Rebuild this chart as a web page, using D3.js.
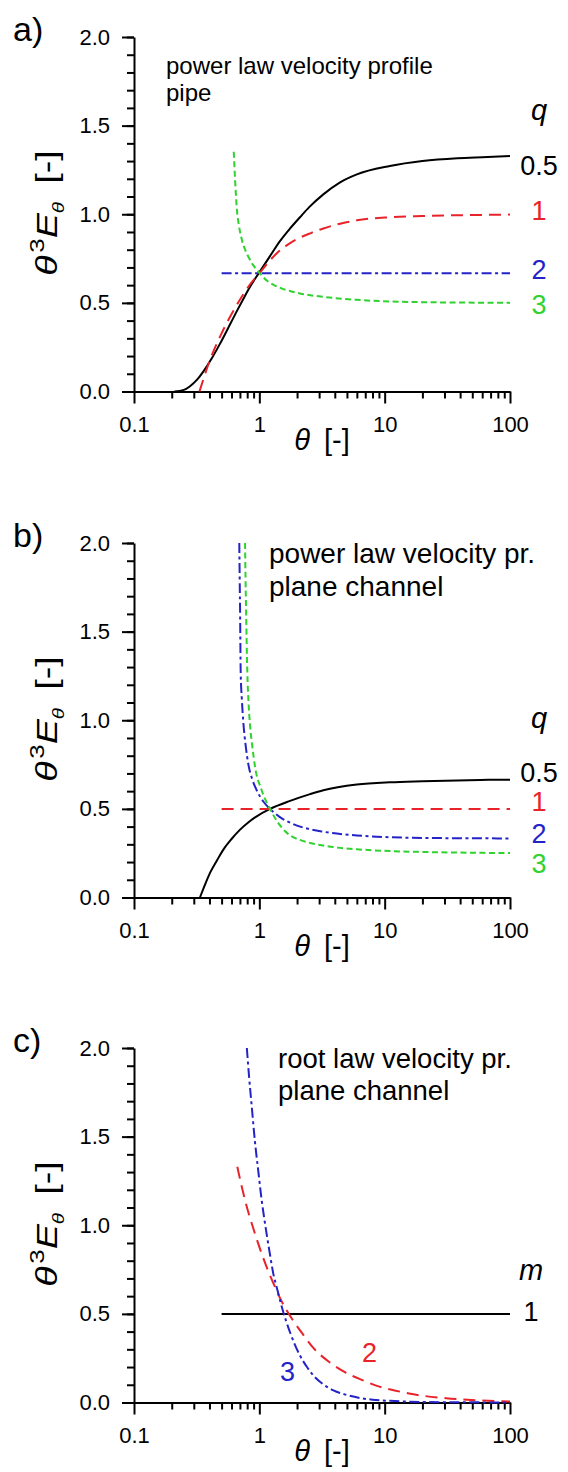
<!DOCTYPE html>
<html>
<head>
<meta charset="utf-8">
<script src="https://cdn.jsdelivr.net/npm/d3@7"></script>
<style>
body{margin:0;background:#fff}
text{font-family:"Liberation Sans",Arial,sans-serif;fill:#000}
</style>
</head>
<body>
<div id="chart"></div>
<script>
const width = 568
const height = 1472

// axes
const thetaDomain = [0.1, 100]
const thetaTicks = [0.1, 1, 10, 100]
const thetaTickLabels = ["0.1", "1", "10", "100"]
const yDomain = [0, 2]
const yTicks = [0, 0.5, 1, 1.5, 2]
const yTickLabels = ["0.0", "0.5", "1.0", "1.5", "2.0"]

// a) power law velocity profile, pipe  [theta, theta^3 E]
const pipeQ05 = [[0.21,0],[0.25,0.009],[0.28,0.03],[0.32,0.068],[0.357,0.112],[0.42,0.19],[0.486,0.27],[0.583,0.378],[0.66,0.452],[0.745,0.522],[0.85,0.595],[1,0.672],[1.22,0.765],[1.46,0.848],[1.76,0.92],[2.11,0.983],[2.5,1.04],[3.24,1.112],[4.41,1.18],[6,1.225],[11,1.272],[20,1.3],[38,1.316],[60,1.322],[100,1.328]]
const pipeQ1 = [[0.333,0],[0.36,0.075],[0.4,0.17],[0.486,0.31],[0.59,0.427],[0.72,0.532],[0.85,0.608],[1,0.667],[1.2,0.735],[1.38,0.78],[1.7,0.83],[2,0.86],[2.6,0.895],[3.24,0.92],[4.5,0.948],[6,0.966],[11,0.983],[20,0.99],[58,0.996],[100,0.998]]
const pipeQ2 = [[0.5,0.667],[100,0.667]]
const pipeQ3 = [[0.625,1.353],[0.64,1.2],[0.66,1.04],[0.69,0.93],[0.723,0.86],[0.77,0.8],[0.818,0.76],[0.9,0.71],[1,0.67],[1.15,0.625],[1.29,0.603],[1.5,0.582],[1.76,0.567],[2.11,0.553],[3.24,0.534],[6,0.517],[11,0.508],[20,0.504],[58,0.501],[100,0.5]]

// b) power law velocity profile, plane channel
const chanQ05 = [[0.336,0],[0.37,0.075],[0.404,0.139],[0.46,0.21],[0.516,0.27],[0.6,0.33],[0.702,0.383],[0.82,0.425],[0.953,0.458],[1.217,0.5],[1.76,0.545],[2.54,0.583],[3.24,0.605],[6,0.637],[11,0.65],[20,0.656],[58,0.663],[100,0.665]]
const chanQ1 = [[0.5,0.5],[100,0.5]]
const chanQ2 = [[0.692,2.0],[0.697,1.8],[0.702,1.62],[0.71,1.27],[0.725,1.12],[0.745,0.99],[0.78,0.85],[0.818,0.75],[0.88,0.665],[0.953,0.605],[1.08,0.54],[1.217,0.5],[1.45,0.455],[1.76,0.422],[2.54,0.385],[3.24,0.371],[6,0.35],[11,0.34],[20,0.336],[58,0.334],[100,0.333]]
const chanQ3 = [[0.769,2.0],[0.776,1.8],[0.783,1.64],[0.802,1.27],[0.82,1.1],[0.84,0.984],[0.88,0.85],[0.923,0.74],[1.04,0.608],[1.217,0.5],[1.4,0.425],[1.6,0.375],[1.76,0.35],[2.11,0.325],[2.54,0.308],[3.24,0.293],[4.41,0.28],[6,0.272],[11,0.262],[20,0.257],[58,0.252],[100,0.251]]

// c) root law velocity profile, plane channel
const rootM1 = [[0.5,0.5],[100,0.5]]
const rootM2 = [[0.667,1.33],[0.72,1.225],[0.79,1.11],[0.87,1.01],[0.95,0.925],[1.05,0.835],[1.18,0.74],[1.3,0.67],[1.46,0.59],[1.65,0.52],[1.87,0.46],[2.2,0.39],[2.72,0.305],[3.67,0.225],[4.7,0.175],[6.7,0.125],[9.2,0.088],[12,0.068],[17,0.046],[31,0.024],[54,0.013],[100,0.006]]
const rootM3 = [[0.795,2.0],[0.83,1.83],[0.87,1.67],[0.92,1.48],[0.983,1.3],[1.04,1.15],[1.11,1.01],[1.2,0.86],[1.29,0.73],[1.4,0.63],[1.51,0.54],[1.76,0.395],[2.11,0.265],[2.4,0.2],[2.72,0.15],[3.2,0.105],[3.9,0.068],[5,0.042],[6.4,0.025],[8,0.016],[12,0.008],[20,0.003],[50,0.001],[100,0]]

const BLACK = "#000", RED = "#e8232a", BLUE = "#2323c8", GREEN = "#2fd22f"
const SOLID = null, DASH = "12,7", DASHDOT = "10,3.5,3,3.5", SHORT = "6,3.5"

const panels = [
  { tag:"a)", top:37, head:["power law velocity profile","pipe"], headX:166, headY:37, headSize:24, headLead:27, param:"q", paramY:83, labelX:539,
    series:[
      {data:pipeQ05, color:BLACK, dash:SOLID, label:"0.5", nudge:9},
      {data:pipeQ1, color:RED, dash:DASH, label:"1", nudge:-4},
      {data:pipeQ2, color:BLUE, dash:DASHDOT, label:"2", nudge:-4},
      {data:pipeQ3, color:GREEN, dash:SHORT, label:"3", nudge:2}
    ]},
  { tag:"b)", top:543, head:["power law velocity pr.","plane channel"], headX:269, headY:20, headSize:28, headLead:33, param:"q", paramY:185, labelX:539,
    series:[
      {data:chanQ05, color:BLACK, dash:SOLID, label:"0.5", nudge:-7},
      {data:chanQ1, color:RED, dash:DASH, label:"1", nudge:-7},
      {data:chanQ2, color:BLUE, dash:DASHDOT, label:"2", nudge:-5},
      {data:chanQ3, color:GREEN, dash:SHORT, label:"3", nudge:11}
    ]},
  { tag:"c)", top:1048, head:["root law velocity pr.","plane channel"], headX:278, headY:20, headSize:27.5, headLead:32, param:"m", paramY:232, labelX:531,
    series:[
      {data:rootM1, color:BLACK, dash:SOLID, label:"1", nudge:-2},
      {data:rootM2, color:RED, dash:DASH, label:"2", at:[6.6,0.226]},
      {data:rootM3, color:BLUE, dash:DASHDOT, label:"3", at:[1.46,0.119]}
    ]}
]

const plotLeft = 134, plotRight = 510, plotH = 354.5

const svg = d3.select("#chart")
  .append("svg")
  .attr("width", width)
  .attr("height", height)
  .style("background", "#fff")

const x = d3.scaleLog().domain(thetaDomain).range([plotLeft, plotRight])
const minorX = x.ticks().filter(d => !thetaTicks.some(t => Math.abs(t - d) < 1e-9))
const minorY = d3.range(0, 2.001, 0.1)

panels.forEach(p => {
  const y = d3.scaleLinear().domain(yDomain).range([p.top + plotH, p.top])
  const g = svg.append("g")

  // minor ticks
  g.append("g")
    .attr("transform", `translate(0,${y(0)})`)
    .call(d3.axisBottom(x).tickValues(minorX).tickSize(7).tickFormat(""))
    .call(a => a.select(".domain").remove())
  g.append("g")
    .attr("transform", `translate(${plotLeft},0)`)
    .call(d3.axisLeft(y).tickValues(minorY).tickSize(7).tickFormat(""))
    .call(a => a.select(".domain").remove())

  // major axes
  g.append("g")
    .attr("transform", `translate(0,${y(0)})`)
    .call(d3.axisBottom(x).tickValues(thetaTicks).tickSize(12).tickSizeOuter(0).tickPadding(13)
      .tickFormat((d, i) => thetaTickLabels[i]))
  g.append("g")
    .attr("transform", `translate(${plotLeft},0)`)
    .call(d3.axisLeft(y).tickValues(yTicks).tickSize(12).tickSizeOuter(0).tickPadding(12)
      .tickFormat((d, i) => yTickLabels[i]))

  g.selectAll(".tick line, .domain").attr("stroke", "#000").attr("stroke-width", 2)
  g.selectAll(".tick text").attr("font-size", 22).attr("font-family", '"Liberation Sans",Arial,sans-serif').attr("fill", "#000")

  // curves
  const line = d3.line().x(d => x(d[0])).y(d => y(d[1])).curve(d3.curveMonotoneX)
  g.selectAll("path.curve")
    .data(p.series)
    .enter()
    .append("path")
    .attr("class", "curve")
    .attr("d", d => line(d.data))
    .attr("fill", "none")
    .attr("stroke", d => d.color)
    .attr("stroke-width", 2)
    .attr("stroke-dasharray", d => d.dash)

  // curve labels
  p.series.forEach(s => {
    const t = g.append("text")
      .attr("font-size", 27)
      .style("fill", s.color)
      .text(s.label)
    if (s.at) {
      t.attr("x", x(s.at[0])).attr("y", y(s.at[1]))
    } else {
      const last = s.data[s.data.length - 1]
      t.attr("x", p.labelX).attr("y", y(last[1]) + s.nudge).attr("dy", "0.35em").attr("text-anchor", "middle")
    }
  })

  g.append("text")
    .attr("x", p.labelX)
    .attr("y", p.top + p.paramY)
    .attr("text-anchor", "middle")
    .attr("font-size", 29)
    .attr("font-style", "italic")
    .text(p.param)

  // heading
  p.head.forEach((h, i) => {
    g.append("text")
      .attr("x", p.headX)
      .attr("y", p.top + p.headY + i * p.headLead)
      .attr("font-size", p.headSize)
      .text(h)
  })

  // panel tag
  g.append("text")
    .attr("x", 13)
    .attr("y", p.top + 4)
    .attr("font-size", 34)
    .text(p.tag)

  // x title
  const xt = g.append("text")
    .attr("x", (plotLeft + plotRight) / 2)
    .attr("y", y(0) + 58)
    .attr("text-anchor", "middle")
    .attr("font-size", 29)
  xt.append("tspan").attr("font-style", "italic").text("θ")
  xt.append("tspan").attr("dx", 14).text("[-]")

  // y title
  const yt = g.append("text")
    .attr("transform", `translate(57,${p.top + 176}) rotate(-90) scale(1.3,1)`)
    .attr("text-anchor", "middle")
    .attr("font-size", 29)
  yt.append("tspan").attr("font-style", "italic").text("θ")
  yt.append("tspan").attr("font-size", 20).attr("dy", -13).attr("dx", 2).text("3")
  yt.append("tspan").attr("font-style", "italic").attr("dy", 13).text("E")
  yt.append("tspan").attr("font-style", "italic").attr("font-size", 16).attr("dy", 7).text("θ")
  yt.append("tspan").attr("dy", -7).attr("dx", 14).text("[-]")
})
</script>
</body>
</html>
